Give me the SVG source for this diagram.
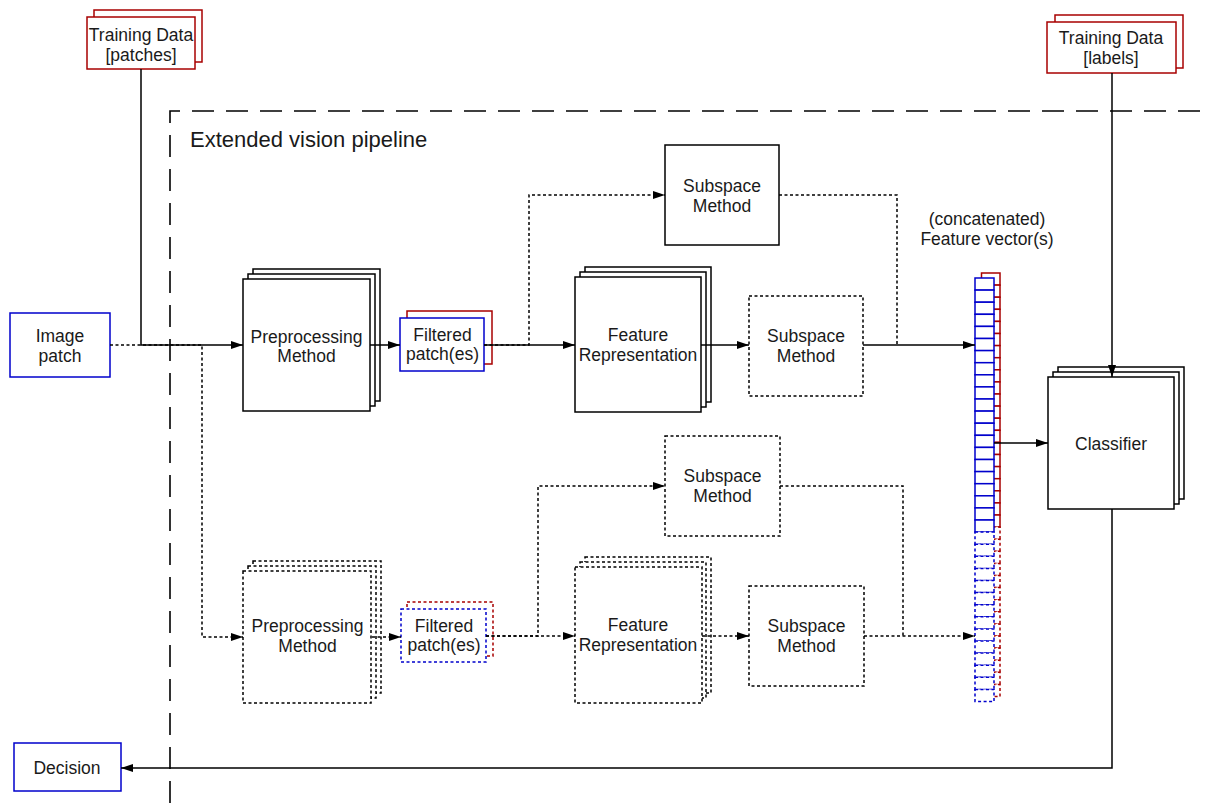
<svg xmlns="http://www.w3.org/2000/svg" width="1212" height="803" viewBox="0 0 1212 803">
<defs>
<marker id="arr" viewBox="0 0 12 8" refX="12" refY="4" markerWidth="12" markerHeight="8" orient="auto" markerUnits="userSpaceOnUse"><path d="M0,0 L12,4 L0,8 z" fill="#000"/></marker>
<style>
text{font-family:"Liberation Sans",Arial,sans-serif;font-size:17.5px;fill:#1a1a1a;text-anchor:middle}
.box{fill:#fff;stroke:#000;stroke-width:1.5}
.dbox{fill:#fff;stroke:#000;stroke-width:1.5;stroke-dasharray:3,2.5}
.red{fill:#fff;stroke:#a80000;stroke-width:1.5}
.blue{fill:#fff;stroke:#0000cc;stroke-width:1.5}
.dred{fill:#fff;stroke:#a80000;stroke-width:1.5;stroke-dasharray:3,2.5}
.dblue{fill:#fff;stroke:#0000cc;stroke-width:1.5;stroke-dasharray:3,2.5}
.ln{fill:none;stroke:#000;stroke-width:1.5}
.dln{fill:none;stroke:#000;stroke-width:1.5;stroke-dasharray:3,2.5}
.arr{marker-end:url(#arr)}
</style>
</defs>
<rect width="1212" height="803" fill="#fff"/>

<g id="pipeline">
<path d="M170,803 V111 H1212" fill="none" stroke="#000" stroke-width="1.6" stroke-dasharray="22,12"/>
<text x="190" y="147" style="font-size:22px;text-anchor:start">Extended vision pipeline</text>
</g>

<g id="training-patches">
<rect class="red" x="94" y="10" width="108" height="52"/>
<rect class="red" x="87" y="17" width="108" height="52"/>
<text x="141" y="41">Training Data</text>
<text x="141" y="61">[patches]</text>
</g>

<g id="training-labels">
<rect class="red" x="1055" y="15" width="128" height="53"/>
<rect class="red" x="1047" y="22" width="129" height="51"/>
<text x="1111" y="44">Training Data</text>
<text x="1111" y="64">[labels]</text>
</g>

<g id="image-patch">
<rect class="blue" x="10" y="313" width="100" height="64"/>
<text x="60" y="342">Image</text>
<text x="60" y="362">patch</text>
</g>

<g id="decision">
<rect class="blue" x="14" y="743" width="107" height="48"/>
<text x="67" y="774">Decision</text>
</g>

<g id="preprocessing-1">
<rect class="box" x="253" y="269" width="127" height="132"/>
<rect class="box" x="248" y="274" width="127" height="132"/>
<rect class="box" x="243" y="279" width="127" height="132"/>
<text x="306.5" y="343">Preprocessing</text>
<text x="306.5" y="362">Method</text>
</g>

<g id="filtered-1">
<rect class="red" x="407" y="311" width="85" height="53"/>
<rect class="blue" x="400" y="318" width="84" height="53"/>
<text x="442.5" y="341">Filtered</text>
<text x="442.5" y="360">patch(es)</text>
</g>

<g id="feature-rep-1">
<rect class="box" x="585" y="267" width="126" height="135"/>
<rect class="box" x="580" y="272" width="126" height="135"/>
<rect class="box" x="575" y="277" width="126" height="135"/>
<text x="638" y="341">Feature</text>
<text x="638" y="361">Representation</text>
</g>

<g id="subspace-1a">
<rect class="box" x="665" y="145" width="114" height="100"/>
<text x="722" y="192">Subspace</text>
<text x="722" y="212">Method</text>
</g>

<g id="subspace-1b">
<rect class="dbox" x="749" y="296" width="114" height="100"/>
<text x="806" y="342">Subspace</text>
<text x="806" y="362">Method</text>
</g>

<g id="preprocessing-2">
<rect class="dbox" x="253" y="561" width="128" height="132"/>
<rect class="dbox" x="248" y="566" width="128" height="132"/>
<rect class="dbox" x="243" y="571" width="128" height="132"/>
<text x="307.5" y="632">Preprocessing</text>
<text x="307.5" y="652">Method</text>
</g>

<g id="filtered-2">
<rect class="dred" x="407" y="602" width="86" height="54"/>
<rect class="dblue" x="401" y="609" width="85" height="53"/>
<text x="444" y="632">Filtered</text>
<text x="444" y="651">patch(es)</text>
</g>

<g id="feature-rep-2">
<rect class="dbox" x="585" y="557" width="126" height="136"/>
<rect class="dbox" x="580" y="562" width="126" height="136"/>
<rect class="dbox" x="575" y="567" width="127" height="136"/>
<text x="638" y="631">Feature</text>
<text x="638" y="651">Representation</text>
</g>

<g id="subspace-2a">
<rect class="dbox" x="665" y="436" width="115" height="100"/>
<text x="722.5" y="482">Subspace</text>
<text x="722.5" y="502">Method</text>
</g>

<g id="subspace-2b">
<rect class="dbox" x="749" y="586" width="115" height="100"/>
<text x="806.5" y="632">Subspace</text>
<text x="806.5" y="652">Method</text>
</g>

<g id="feature-vector">
<text x="987" y="225">(concatenated)</text>
<text x="987" y="245">Feature vector(s)</text>
<g id="fv-red">
<rect class="red" x="981.5" y="273" width="18.5" height="12.1"/>
<rect class="red" x="981.5" y="285.1" width="18.5" height="12.1"/>
<rect class="red" x="981.5" y="297.2" width="18.5" height="12.1"/>
<rect class="red" x="981.5" y="309.3" width="18.5" height="12.1"/>
<rect class="red" x="981.5" y="321.4" width="18.5" height="12.1"/>
<rect class="red" x="981.5" y="333.5" width="18.5" height="12.1"/>
<rect class="red" x="981.5" y="345.6" width="18.5" height="12.1"/>
<rect class="red" x="981.5" y="357.7" width="18.5" height="12.1"/>
<rect class="red" x="981.5" y="369.8" width="18.5" height="12.1"/>
<rect class="red" x="981.5" y="381.9" width="18.5" height="12.1"/>
<rect class="red" x="981.5" y="394" width="18.5" height="12.1"/>
<rect class="red" x="981.5" y="406.1" width="18.5" height="12.1"/>
<rect class="red" x="981.5" y="418.2" width="18.5" height="12.1"/>
<rect class="red" x="981.5" y="430.3" width="18.5" height="12.1"/>
<rect class="red" x="981.5" y="442.4" width="18.5" height="12.1"/>
<rect class="red" x="981.5" y="454.5" width="18.5" height="12.1"/>
<rect class="red" x="981.5" y="466.6" width="18.5" height="12.1"/>
<rect class="red" x="981.5" y="478.7" width="18.5" height="12.1"/>
<rect class="red" x="981.5" y="490.8" width="18.5" height="12.1"/>
<rect class="red" x="981.5" y="502.9" width="18.5" height="12.1"/>
<rect class="red" x="981.5" y="515" width="18.5" height="12.1"/>
<rect class="dred" x="981.5" y="527.1" width="18.5" height="12.1"/>
<rect class="dred" x="981.5" y="539.2" width="18.5" height="12.1"/>
<rect class="dred" x="981.5" y="551.3" width="18.5" height="12.1"/>
<rect class="dred" x="981.5" y="563.4" width="18.5" height="12.1"/>
<rect class="dred" x="981.5" y="575.5" width="18.5" height="12.1"/>
<rect class="dred" x="981.5" y="587.6" width="18.5" height="12.1"/>
<rect class="dred" x="981.5" y="599.7" width="18.5" height="12.1"/>
<rect class="dred" x="981.5" y="611.8" width="18.5" height="12.1"/>
<rect class="dred" x="981.5" y="623.9" width="18.5" height="12.1"/>
<rect class="dred" x="981.5" y="636" width="18.5" height="12.1"/>
<rect class="dred" x="981.5" y="648.1" width="18.5" height="12.1"/>
<rect class="dred" x="981.5" y="660.2" width="18.5" height="12.1"/>
<rect class="dred" x="981.5" y="672.3" width="18.5" height="12.1"/>
<rect class="dred" x="981.5" y="684.4" width="18.5" height="12.1"/>
</g>
<g id="fv-blue">
<rect class="blue" x="975" y="278" width="19" height="12.1"/>
<rect class="blue" x="975" y="290.1" width="19" height="12.1"/>
<rect class="blue" x="975" y="302.2" width="19" height="12.1"/>
<rect class="blue" x="975" y="314.3" width="19" height="12.1"/>
<rect class="blue" x="975" y="326.4" width="19" height="12.1"/>
<rect class="blue" x="975" y="338.5" width="19" height="12.1"/>
<rect class="blue" x="975" y="350.6" width="19" height="12.1"/>
<rect class="blue" x="975" y="362.7" width="19" height="12.1"/>
<rect class="blue" x="975" y="374.8" width="19" height="12.1"/>
<rect class="blue" x="975" y="386.9" width="19" height="12.1"/>
<rect class="blue" x="975" y="399" width="19" height="12.1"/>
<rect class="blue" x="975" y="411.1" width="19" height="12.1"/>
<rect class="blue" x="975" y="423.2" width="19" height="12.1"/>
<rect class="blue" x="975" y="435.3" width="19" height="12.1"/>
<rect class="blue" x="975" y="447.4" width="19" height="12.1"/>
<rect class="blue" x="975" y="459.5" width="19" height="12.1"/>
<rect class="blue" x="975" y="471.6" width="19" height="12.1"/>
<rect class="blue" x="975" y="483.7" width="19" height="12.1"/>
<rect class="blue" x="975" y="495.8" width="19" height="12.1"/>
<rect class="blue" x="975" y="507.9" width="19" height="12.1"/>
<rect class="blue" x="975" y="520" width="19" height="12.1"/>
<rect class="dblue" x="975" y="532.1" width="19" height="12.1"/>
<rect class="dblue" x="975" y="544.2" width="19" height="12.1"/>
<rect class="dblue" x="975" y="556.3" width="19" height="12.1"/>
<rect class="dblue" x="975" y="568.4" width="19" height="12.1"/>
<rect class="dblue" x="975" y="580.5" width="19" height="12.1"/>
<rect class="dblue" x="975" y="592.6" width="19" height="12.1"/>
<rect class="dblue" x="975" y="604.7" width="19" height="12.1"/>
<rect class="dblue" x="975" y="616.8" width="19" height="12.1"/>
<rect class="dblue" x="975" y="628.9" width="19" height="12.1"/>
<rect class="dblue" x="975" y="641" width="19" height="12.1"/>
<rect class="dblue" x="975" y="653.1" width="19" height="12.1"/>
<rect class="dblue" x="975" y="665.2" width="19" height="12.1"/>
<rect class="dblue" x="975" y="677.3" width="19" height="12.1"/>
<rect class="dblue" x="975" y="689.4" width="19" height="12.1"/>
</g>
</g>

<g id="classifier">
<rect class="box" x="1058" y="367" width="126" height="132"/>
<rect class="box" x="1053" y="372" width="126" height="132"/>
<rect class="box" x="1048" y="377" width="126" height="132"/>
<text x="1111" y="450">Classifier</text>
</g>

<g id="connectors">
<path class="dln arr" d="M110,345 H202 V637 H243"/>
<path class="ln arr" d="M141,69 V345 H243"/>
<path class="ln arr" d="M370,345 H400"/>
<path class="dln arr" d="M484,345 H529 V195 H665"/>
<path class="ln arr" d="M484,345 H575"/>
<path class="ln arr" d="M701,345 H749"/>
<path class="dln" d="M779,195 H897 V345"/>
<path class="ln arr" d="M863,345 H975"/>
<path class="ln arr" d="M994,443 H1048"/>
<path class="ln arr" d="M1112,73 V377"/>
<path class="ln arr" d="M1112,509 V768 H121"/>
<path class="dln arr" d="M372,637 H401"/>
<path class="dln arr" d="M486,636 H538 V486 H665"/>
<path class="dln arr" d="M486,636 H575"/>
<path class="dln arr" d="M702,636 H749"/>
<path class="dln" d="M780,486 H903 V636"/>
<path class="dln arr" d="M864,636 H975"/>
</g>
</svg>
